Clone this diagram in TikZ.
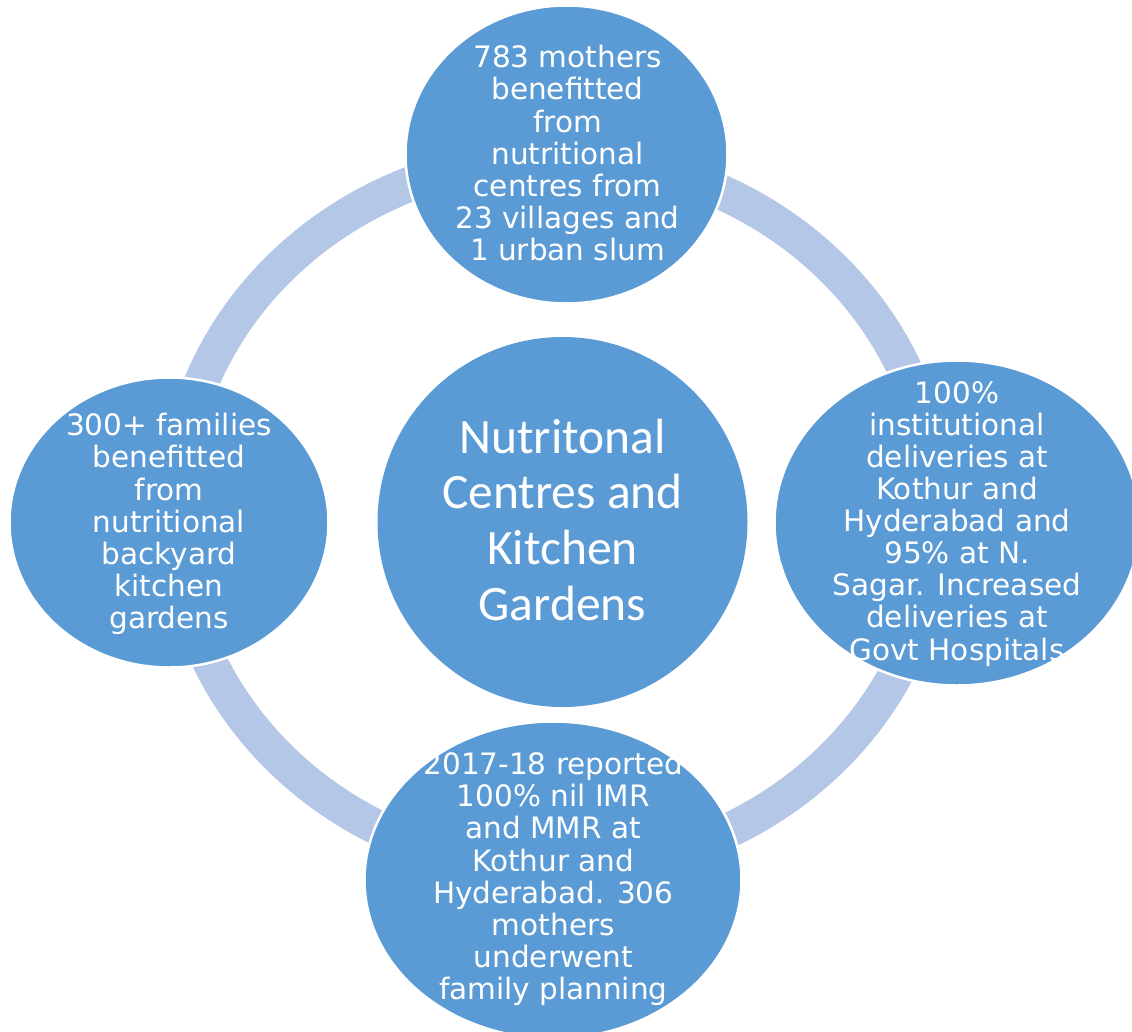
\documentclass[tikz,border=0pt]{standalone}
\usepackage{fontspec}
\setmainfont{DejaVu Sans}
\newfontfamily\calibfont{Carlito}
\usetikzlibrary{shapes.geometric}
\definecolor{satblue}{HTML}{5B9BD5}
\definecolor{ringblue}{HTML}{B4C7E7}
\begin{document}
\begin{tikzpicture}[x=1pt,y=-1pt,
  blob/.style={ellipse, fill=satblue, draw=white, line width=2.5pt, inner sep=0pt, outer sep=0pt},
  sattext/.style={text=white, align=center, inner sep=0pt, font=\fontsize{29.5}{32.1}\selectfont},
  centretext/.style={text=white, align=center, inner sep=0pt, font=\calibfont\fontsize{49.5}{55.6}\selectfont},
  ringline/.style={draw=ringblue, line width=35pt}
]
\useasboundingbox (0,0) rectangle (1132,1031);
\fill[white] (0,0) rectangle (1132,1031);

% ring
\coordinate (ringc) at (556,513);
\draw[ringline] (ringc) ellipse [x radius=381, y radius=356];

% centre
\node[blob, draw=none, minimum width=370pt, minimum height=370pt] (centre) at (562.5,522) {};
\node[centretext] (centretxt) at (562.5,525.5) {\strut Nutritonal\\Centres and\\Kitchen\\Gardens\strut};

% satellites
\node[blob, minimum width=322pt, minimum height=298pt] (top) at (566.5,154.5) {};
\node[blob, minimum width=365pt, minimum height=325pt] (right) at (957,523) {};
\node[blob, minimum width=377pt, minimum height=317pt] (bottom) at (553,880) {};
\node[blob, minimum width=319pt, minimum height=290pt] (left) at (169,522.5) {};

\node[sattext] (toptxt) at (567.5,157.7) {\strut 783 mothers\\benefitted\\from\\nutritional\\centres from\\23 villages and\\1 urban slum\strut};
\node[sattext] (righttxt) at (957,525.2) {\strut 100\%\\institutional\\deliveries at\\Kothur and\\Hyderabad and\\95\% at N.\\Sagar. Increased\\deliveries at\\Govt Hospitals\strut};
\node[sattext] (bottomtxt) at (553.3,880.7) {\strut 2017-18 reported\\100\% nil IMR\\and MMR at\\Kothur and\\Hyderabad. 306\\mothers\\underwent\\family planning\strut};
\node[sattext] (lefttxt) at (169,525.7) {\strut 300+ families\\benefitted\\from\\nutritional\\backyard\\kitchen\\gardens\strut};
\end{tikzpicture}
\end{document}
